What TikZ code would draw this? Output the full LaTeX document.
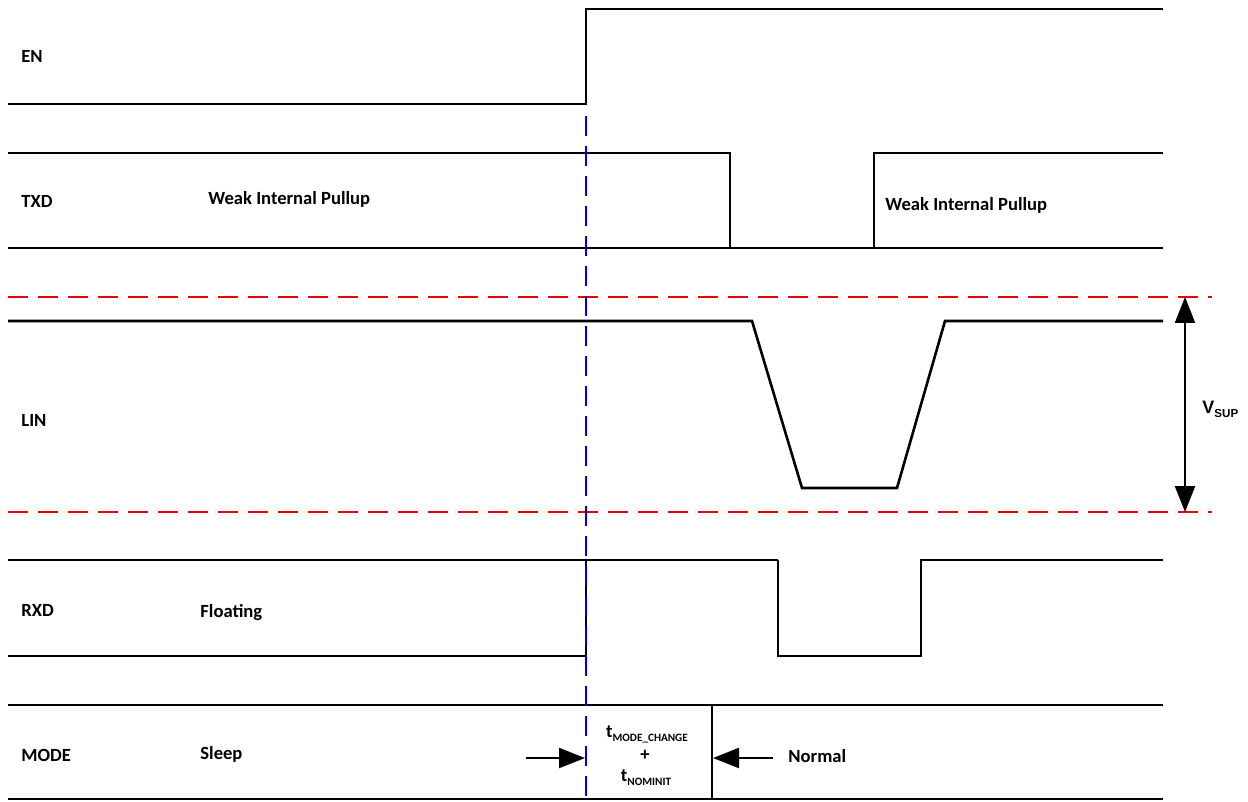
\documentclass[tikz,border=0pt]{standalone}
\usepackage{fontspec}
\setmainfont{Carlito}
\newfontfamily\arialbold{Liberation Sans}[BoldFont={* Bold}]
\usetikzlibrary{arrows.meta}
\newcommand{\lowtxt}[1]{\raisebox{-0.45ex}{\fontsize{5.6}{6}\selectfont #1}}
\definecolor{edgeblue}{RGB}{0,0,210}
\definecolor{railred}{RGB}{235,0,0}
\tikzset{
  sig/.style={line width=1.3pt, line join=miter},
  lbl/.style={anchor=base west, inner sep=0pt, font=\fontsize{9.3}{11}\selectfont\bfseries},
  clbl/.style={anchor=base, inner sep=0pt, font=\fontsize{9.3}{11}\selectfont\bfseries},
  marker/.style={line width=1.1pt, dash pattern=on 10pt off 5pt},
  bigarrow/.style={line width=1.2pt, -{Triangle[length=13pt, width=10pt]}},
  dblarrow/.style={line width=1.2pt, {Triangle[length=13pt, width=10pt]}-{Triangle[length=13pt, width=10pt]}}
}
\begin{document}
\begin{tikzpicture}[x=0.5pt, y=-0.5pt]
\useasboundingbox (0,0) rectangle (1248,802);

% EN
\draw[sig] (8,104) -- (586,104) -- (586,9) -- (1163,9);
% TXD
\draw[sig] (8,153) -- (730,153) -- (730,248);
\draw[sig] (8,248) -- (1163,248);
\draw[sig] (874,248) -- (874,153) -- (1163,153);
% LIN
\draw[sig] (8,321) -- (752,321) -- (802,488) -- (897,488) -- (945,321) -- (1163,321);
% RXD
\draw[sig] (8,560) -- (778,560);
\draw[sig] (8,656) -- (586,656) -- (586,560);
\draw[sig] (778,560) -- (778,656) -- (921,656) -- (921,560) -- (1163,560);
% MODE
\draw[sig] (8,705) -- (1163,705);
\draw[sig] (8,799) -- (1163,799);
\draw[sig] (712,705) -- (712,799);

% supply rails
\draw[marker, railred] (8,297) -- (1212,297);
\draw[marker, railred] (8,512) -- (1212,512);

% EN edge marker
\draw[marker, edgeblue] (586,116) -- (586,802);

% V_SUP span
\coordinate (vtop) at (1185,297);
\coordinate (vbot) at (1185,512);
\draw[dblarrow] (vtop) -- (vbot);
\node[anchor=base west, inner sep=0pt] (vsup) at (1202,413)
  {\arialbold\bfseries\fontsize{9}{10}\selectfont V\raisebox{-0.5ex}{\fontsize{5.8}{6}\selectfont SUP}};

% mode change timing arrows
\coordinate (la) at (526,758);
\coordinate (lb) at (585,758);
\coordinate (ra) at (773,758);
\coordinate (rb) at (713,758);
\draw[bigarrow] (la) -- (lb);
\draw[bigarrow] (ra) -- (rb);

% signal names
\node[lbl] (en) at (21,63) {EN};
\node[lbl] (txd) at (21,208) {TXD};
\node[lbl] (lin) at (21,426) {LIN};
\node[lbl] (rxd) at (21,616) {RXD};
\node[lbl] (mode) at (21,761) {MODE};

% state texts
\node[lbl] (wip1) at (208,205) {Weak Internal Pullup};
\node[lbl] (wip2) at (885,211) {Weak Internal Pullup};
\node[lbl] (flt) at (200,617) {Floating};
\node[lbl] (slp) at (200,759) {Sleep};
\node[lbl] (nrm) at (788,762) {Normal};

% timing
\node[clbl] (tmc) at (647,737) {t\lowtxt{MODE\_CHANGE}};
\node[clbl] (plus) at (645,760) {+};
\node[clbl] (tni) at (646,781) {t\lowtxt{NOMINIT}};
\end{tikzpicture}
\end{document}
